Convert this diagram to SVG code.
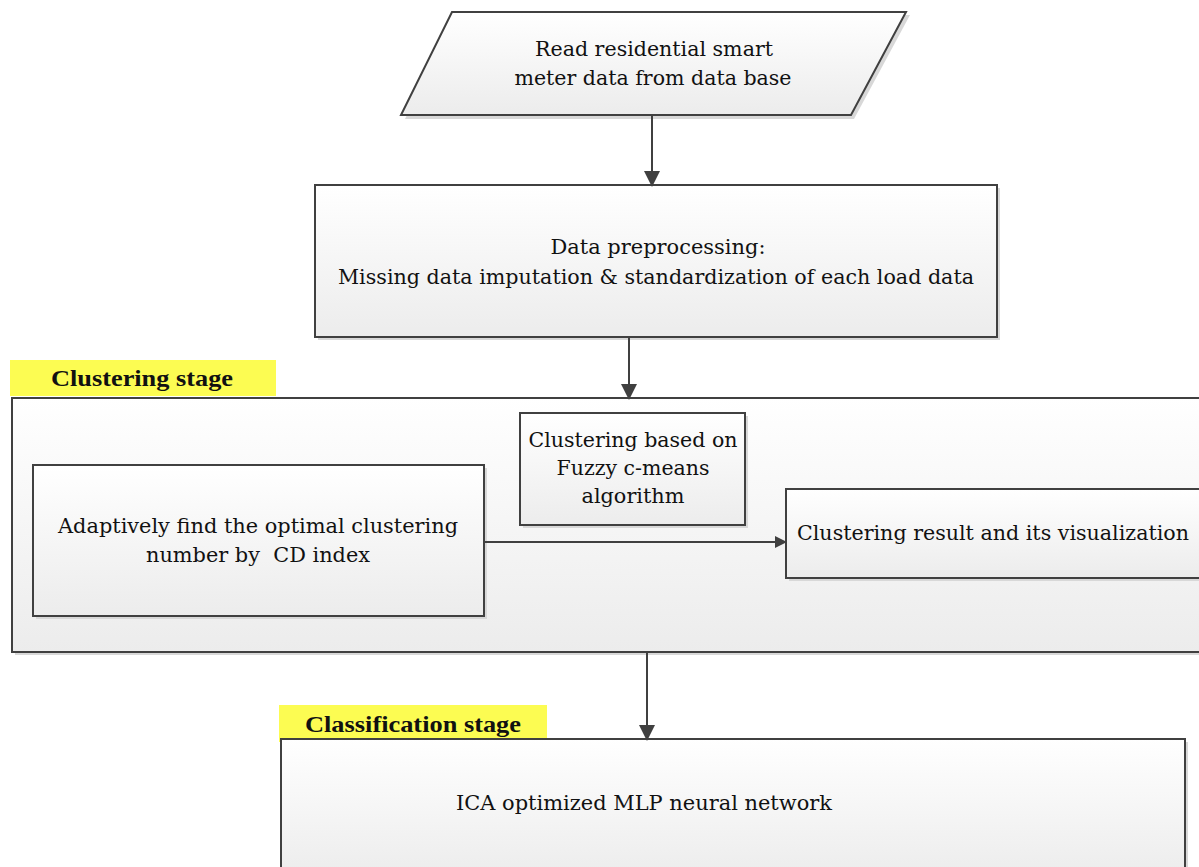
<svg xmlns="http://www.w3.org/2000/svg" width="1199" height="867" viewBox="0 0 1199 867">
<defs>
<linearGradient id="g" x1="0" y1="0" x2="0" y2="1">
<stop offset="0" stop-color="#ffffff"/>
<stop offset="1" stop-color="#ececec"/>
</linearGradient>
<marker id="ah" markerWidth="12" markerHeight="12" refX="11" refY="6" orient="auto" markerUnits="userSpaceOnUse" viewBox="0 0 12 12">
<path d="M0,0 L12,6 L0,12 Z" fill="#404040"/>
</marker>
<marker id="av" markerWidth="16" markerHeight="16" refX="14" refY="8" orient="auto" markerUnits="userSpaceOnUse" viewBox="0 0 16 16">
<path d="M0,0 L16,8 L0,16 Z" fill="#404040"/>
</marker>
</defs>
<style>
.box{fill:url(#g);stroke:#404040;stroke-width:2}
.sh{fill:#d8d8d8}
.t{font-family:'DejaVu Serif','Liberation Serif',serif;font-size:21px;fill:#111;text-anchor:middle}
.lbl{font-family:'Liberation Serif','DejaVu Serif',serif;font-size:23px;font-weight:bold;fill:#111;text-anchor:middle}
.hl{fill:#fcfc52}
.c{stroke:#404040;stroke-width:2;fill:none}
</style>
<rect width="1199" height="867" fill="#ffffff"/>

<g id="input">
<polygon class="sh" points="456,15 910,15 854,119 405,119"/>
<polygon class="box" points="452,12 906,12 851,115 401,115"/>
<text class="t" x="654" y="56" textLength="238" lengthAdjust="spacingAndGlyphs">Read residential smart</text>
<text class="t" x="653" y="85" textLength="277" lengthAdjust="spacingAndGlyphs">meter data from data base</text>
</g>

<g id="preprocess">
<rect class="sh" x="318" y="188" width="682" height="152"/>
<rect class="box" x="315" y="185" width="682" height="152"/>
<text class="t" x="658" y="254" textLength="215" lengthAdjust="spacingAndGlyphs">Data preprocessing:</text>
<text class="t" x="656" y="284" textLength="636" lengthAdjust="spacingAndGlyphs">Missing data imputation &amp; standardization of each load data</text>
</g>

<g id="clustering-stage">
<rect class="hl" x="10" y="360" width="266" height="36"/>
<text class="lbl" x="142" y="386" textLength="182" lengthAdjust="spacingAndGlyphs">Clustering stage</text>
<rect class="sh" x="15" y="401" width="1190" height="254"/>
<rect class="box" x="12" y="398" width="1195" height="254"/>
</g>

<g id="fcm">
<rect class="sh" x="523" y="416" width="225" height="112"/>
<rect class="box" x="520" y="413" width="225" height="112"/>
<text class="t" x="633" y="447" textLength="209" lengthAdjust="spacingAndGlyphs">Clustering based on</text>
<text class="t" x="633" y="475" textLength="153" lengthAdjust="spacingAndGlyphs">Fuzzy c-means</text>
<text class="t" x="633" y="503" textLength="103" lengthAdjust="spacingAndGlyphs">algorithm</text>
</g>

<g id="adaptive">
<rect class="sh" x="36" y="468" width="451" height="151"/>
<rect class="box" x="33" y="465" width="451" height="151"/>
<text class="t" x="258" y="533" textLength="400" lengthAdjust="spacingAndGlyphs">Adaptively find the optimal clustering</text>
<text class="t" x="258" y="562" textLength="224" lengthAdjust="spacingAndGlyphs" xml:space="preserve">number by  CD index</text>
</g>

<g id="result">
<rect class="sh" x="789" y="492" width="420" height="89"/>
<rect class="box" x="786" y="489" width="420" height="89"/>
<text class="t" x="993" y="540" textLength="392" lengthAdjust="spacingAndGlyphs">Clustering result and its visualization</text>
</g>

<g id="classification-stage">
<rect class="hl" x="279" y="705" width="268" height="37"/>
<text class="lbl" x="413" y="732" textLength="216" lengthAdjust="spacingAndGlyphs">Classification stage</text>
</g>

<g id="mlp">
<rect class="sh" x="284" y="742" width="904" height="140"/>
<rect class="box" x="281" y="739" width="904" height="140"/>
<text class="t" x="644" y="810" textLength="376" lengthAdjust="spacingAndGlyphs">ICA optimized MLP neural network</text>
</g>

<g id="connectors">
<line class="c" x1="652" y1="116" x2="652" y2="185" marker-end="url(#av)"/>
<line class="c" x1="629" y1="338" x2="629" y2="398" marker-end="url(#av)"/>
<line class="c" x1="485" y1="542" x2="786" y2="542" marker-end="url(#ah)"/>
<line class="c" x1="647" y1="653" x2="647" y2="739" marker-end="url(#av)"/>
</g>
</svg>
